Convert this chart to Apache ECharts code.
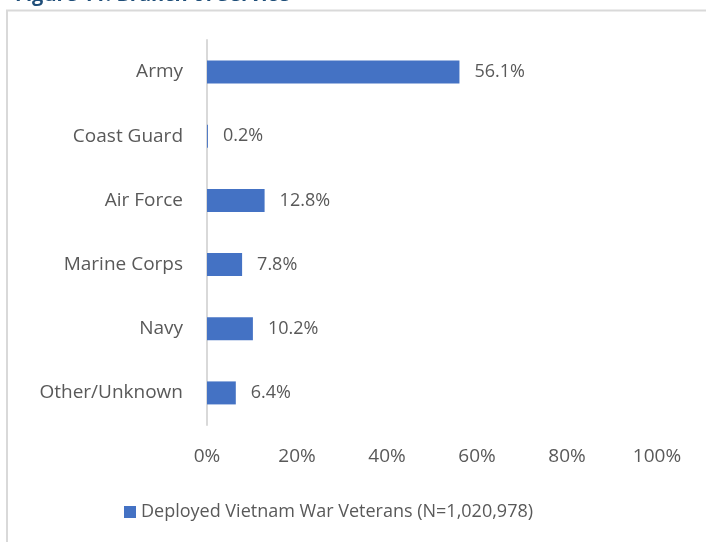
<!DOCTYPE html>
<html>
<head>
<meta charset="utf-8">
<script src="https://cdn.jsdelivr.net/npm/echarts@6/dist/echarts.min.js"></script>
<style>
html,body{margin:0;padding:0;background:#fff;}
#chart{width:706px;height:542px;}
</style>
</head>
<body>
<div id="chart"></div>
<script>
const categories = ['Army', 'Coast Guard', 'Air Force', 'Marine Corps', 'Navy', 'Other/Unknown'];
const values = [56.1, 0.2, 12.8, 7.8, 10.2, 6.4];
const seriesName = 'Deployed Vietnam War Veterans (N=1,020,978)';
const titleText = 'Figure 11. Branch of Service';
const xTicks = [0, 20, 40, 60, 80, 100];

const FONT = '"Open Sans", "Liberation Sans", sans-serif';
const chart = echarts.init(document.getElementById('chart'));
chart.setOption({
  animation: false,
  textStyle: { fontFamily: FONT },
  graphic: [
    { type: 'rect', shape: { x: 7, y: 10.5, width: 720, height: 560 }, style: { fill: 'none', stroke: '#D9D9D9', lineWidth: 2 } },
    { type: 'text', left: 15, top: -15, style: { text: titleText, fill: '#1F4E79', font: 'bold 20px ' + FONT } }
  ],
  grid: { left: 207, right: 49, top: 40, bottom: 117, containLabel: false },
  legend: {
    left: 119, top: 498,
    itemWidth: 12, itemHeight: 12, itemGap: 10,
    icon: 'rect',
    textStyle: { color: '#595959', fontSize: 18, fontFamily: FONT },
    data: [seriesName]
  },
  xAxis: {
    type: 'value', min: 0, max: 100, interval: 20,
    axisLine: { show: false }, axisTick: { show: false },
    splitLine: { show: false },
    axisLabel: { color: '#595959', fontSize: 19, margin: 22, formatter: v => v + '%' }
  },
  yAxis: {
    type: 'category', data: categories, inverse: true,
    axisLine: { show: true, lineStyle: { color: '#D9D9D9', width: 2 } },
    axisTick: { show: false },
    axisLabel: { color: '#595959', fontSize: 19, margin: 24 }
  },
  series: [{
    name: seriesName, type: 'bar', data: values, barWidth: 23,
    itemStyle: { color: '#4472C4' },
    label: { show: true, position: 'right', distance: 15, color: '#595959', fontSize: 18, formatter: p => p.value.toFixed(1) + '%' }
  }]
});
</script>
</body>
</html>
